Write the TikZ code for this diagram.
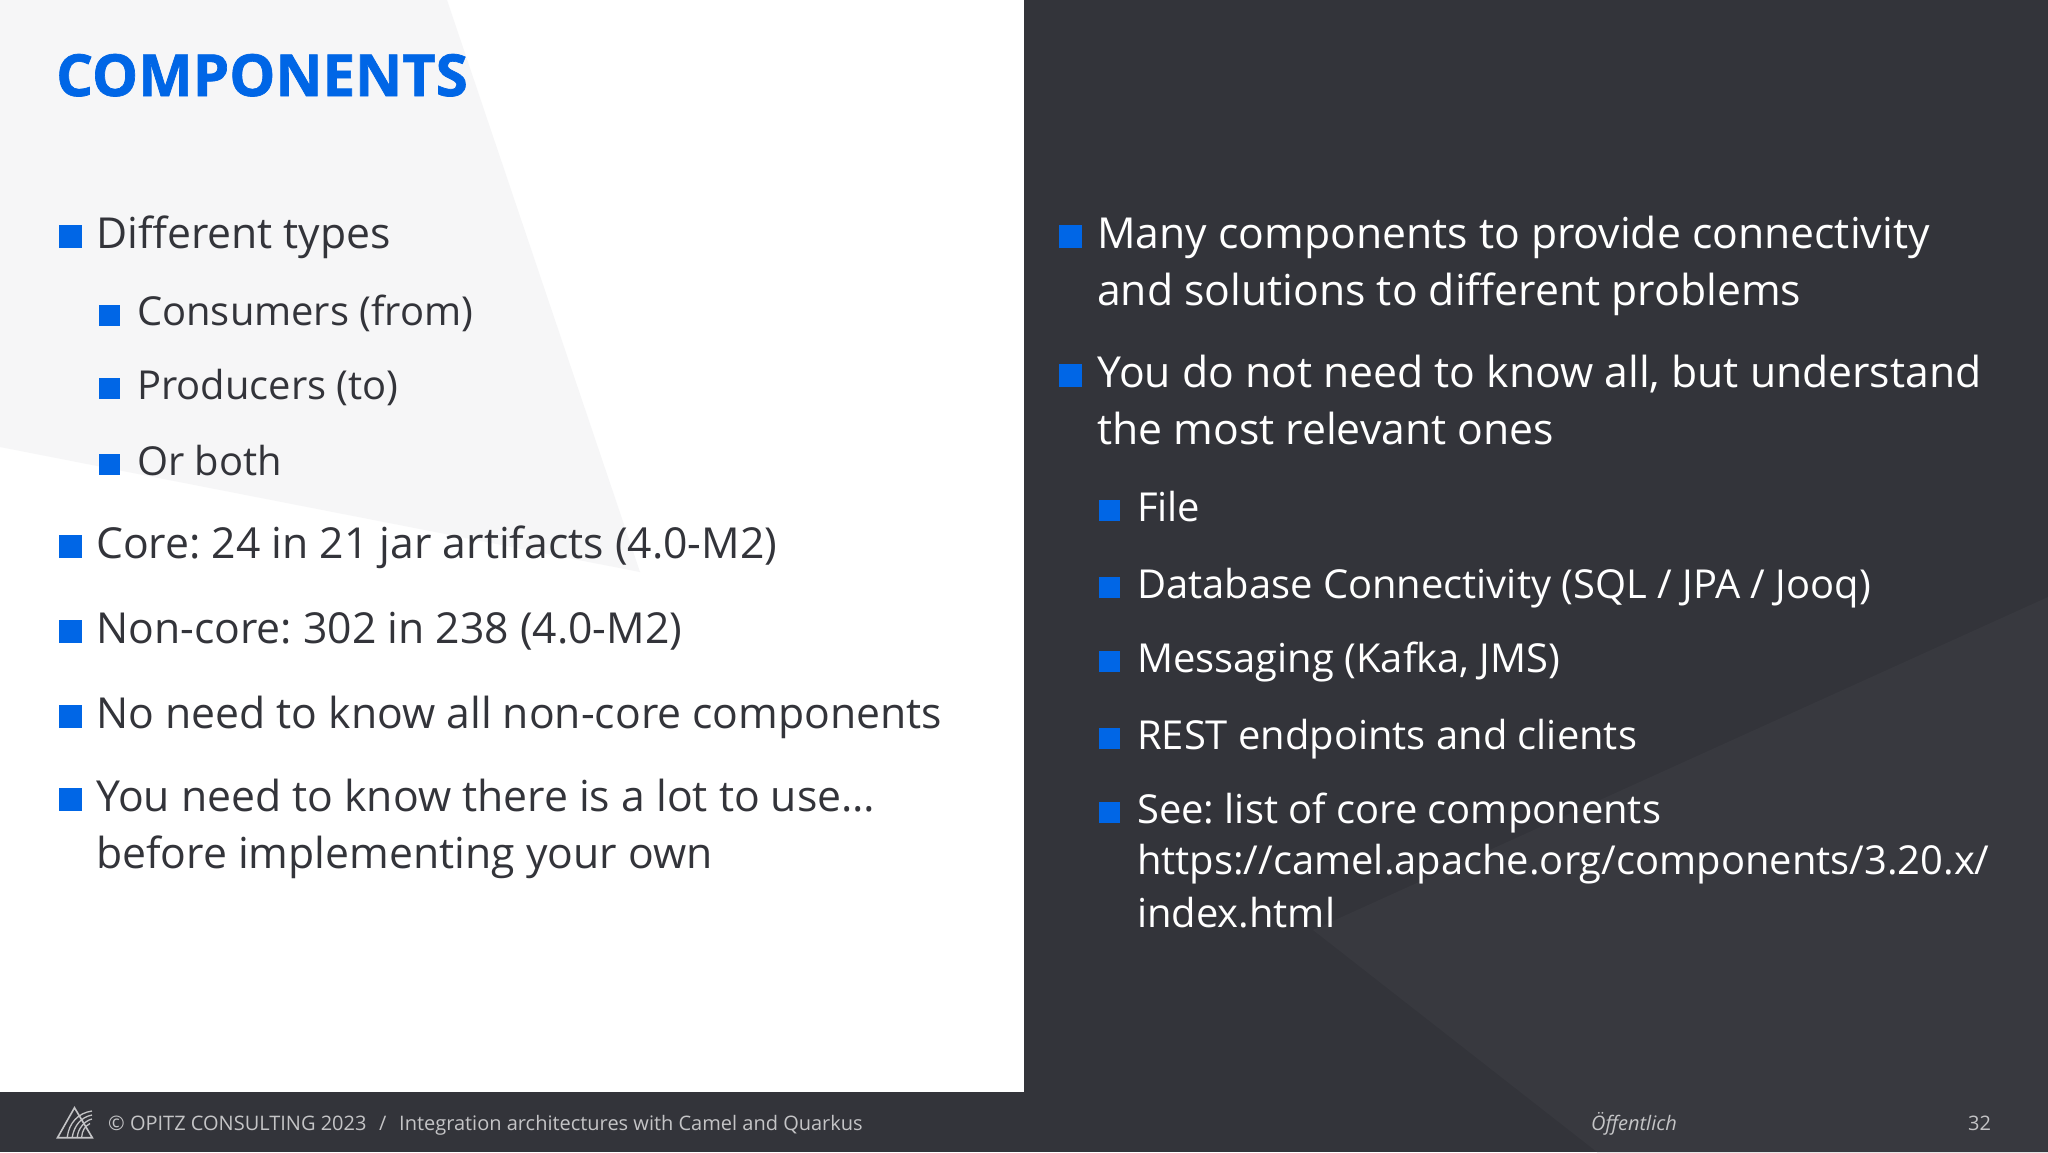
\documentclass[tikz,border=0pt]{standalone}
\usepackage{fontspec}
\setmainfont{Open Sans}
\newfontfamily\titlefont[FakeBold=1.2]{Open Sans Bold}
\frenchspacing

\definecolor{slidedark}{HTML}{33343A}
\definecolor{slidefacet}{HTML}{38393F}
\definecolor{slidepale}{HTML}{F6F6F7}
\definecolor{opitzblue}{HTML}{0066E6}
\definecolor{footgrey}{HTML}{C4C4C6}

\tikzset{
	itemtext/.style={anchor=base west, inner sep=0pt, font=\fontsize{42.7}{57}\selectfont, align=left},
	subtext/.style={anchor=base west, inner sep=0pt, font=\fontsize{39.9}{52}\selectfont, align=left},
	lefttext/.style={text=slidedark},
	righttext/.style={text=white},
	mainbullet/.style={fill=opitzblue, inner sep=0pt, minimum size=23pt},
	subbullet/.style={fill=opitzblue, inner sep=0pt, minimum size=21pt},
	foottext/.style={anchor=base west, inner sep=0pt, text=footgrey, font=\fontsize{20}{24}\selectfont},
	logoline/.style={footgrey, line width=1.3pt},
}

\begin{document}
\begin{tikzpicture}[x=1pt,y=-1pt]

	\useasboundingbox (0,0) rectangle (2048,1152);

	% background
	\fill[white] (0,0) rectangle (1024,1092);
	\fill[slidepale] (0,0) -- (447,0) -- (640,572) -- (0,447) -- cycle;
	\fill[slidedark] (1024,0) rectangle (2048,1152);
	\fill[slidefacet] (2048,597) -- (1313,930) -- (1597,1152) -- (2048,1152) -- cycle;
	\fill[slidedark] (0,1092) rectangle (1024,1152);

	% title
	\node[anchor=base west, inner sep=0pt, text=opitzblue, font=\titlefont\fontsize{58}{68}\selectfont] (title) at (56,96) {COMPONENTS};

	% left column
	\node[mainbullet] (bulTypes) at (70,236) {};
	\node[itemtext, lefttext] (types) at (96,248) {Different types};
	\node[subbullet] (bulConsumers) at (109,315) {};
	\node[subtext, lefttext] (consumers) at (137,325) {Consumers (from)};
	\node[subbullet] (bulProducers) at (109,388) {};
	\node[subtext, lefttext] (producers) at (137,399) {Producers (to)};
	\node[subbullet] (bulBoth) at (109,464) {};
	\node[subtext, lefttext] (both) at (137,475.5) {Or both};
	\node[mainbullet] (bulCore) at (70,546) {};
	\node[itemtext, lefttext] (core) at (96,558) {Core: 24 in 21 jar artifacts (4.0-M2)};
	\node[mainbullet] (bulNoncore) at (70,631) {};
	\node[itemtext, lefttext] (noncore) at (96,643) {Non-core: 302 in 238 (4.0-M2)};
	\node[mainbullet] (bulNoneed) at (70,716) {};
	\node[itemtext, lefttext] (noneed) at (96,728) {No need to know all non-core components};
	\node[mainbullet] (bulYouneed) at (70,799) {};
	\node[itemtext, lefttext] (youneed) at (96,811) {You need to know there is a lot to use\dots};
	\node[itemtext, lefttext] (before) at (96,868) {before implementing your own};

	% right column
	\node[mainbullet] (bulMany) at (1070,236) {};
	\node[itemtext, righttext] (many) at (1097,248) {Many components to provide connectivity};
	\node[itemtext, righttext] (solutions) at (1097,305) {and solutions to different problems};
	\node[mainbullet] (bulNotall) at (1070,375) {};
	\node[itemtext, righttext] (notall) at (1097,387) {You do not need to know all, but understand};
	\node[itemtext, righttext] (relevant) at (1097,444) {the most relevant ones};
	\node[subbullet] (bulFile) at (1109.5,510) {};
	\node[subtext, righttext] (file) at (1137,521) {File};
	\node[subbullet] (bulDatabase) at (1109.5,587) {};
	\node[subtext, righttext] (database) at (1137,598) {Database Connectivity (SQL / JPA / Jooq)};
	\node[subbullet] (bulMessaging) at (1109.5,661) {};
	\node[subtext, righttext] (messaging) at (1137,672) {Messaging (Kafka, JMS)};
	\node[subbullet] (bulRest) at (1109.5,738) {};
	\node[subtext, righttext] (rest) at (1137,749) {REST endpoints and clients};
	\node[subbullet] (bulSee) at (1109.5,812) {};
	\node[subtext, righttext] (see) at (1137,823) {See: list of core components};
	\node[subtext, righttext] (link) at (1137,874) {https://camel.apache.org/components/3.20.x/};
	\node[subtext, righttext] (index) at (1137,927) {index.html};

	% footer
	\draw[logoline, line width=1.6pt] (57.5,1137.7) -- (74.5,1107.7) -- (92.3,1137.7) -- cycle;
	\draw[logoline] (67.3,1137) .. controls (69,1123) and (78,1113) .. (92,1111);
	\draw[logoline] (72.3,1137) .. controls (74,1126) and (81,1117) .. (92,1115);
	\draw[logoline] (77.3,1137) .. controls (78,1129) and (84,1121) .. (92,1119);
	\draw[logoline] (81.7,1137) .. controls (82,1131) and (85,1126) .. (90,1123.5);
	\node[foottext] (copyright) at (108,1130) {© OPITZ CONSULTING 2023};
	\node[foottext] (slash) at (379,1130) {/};
	\node[foottext] (talk) at (399,1130) {Integration architectures with Camel and Quarkus};
	\node[foottext, font=\fontsize{20}{24}\selectfont\itshape] (public) at (1591,1130) {Öffentlich};
	\node[foottext] (pagenum) at (1968,1130) {32};

\end{tikzpicture}
\end{document}
